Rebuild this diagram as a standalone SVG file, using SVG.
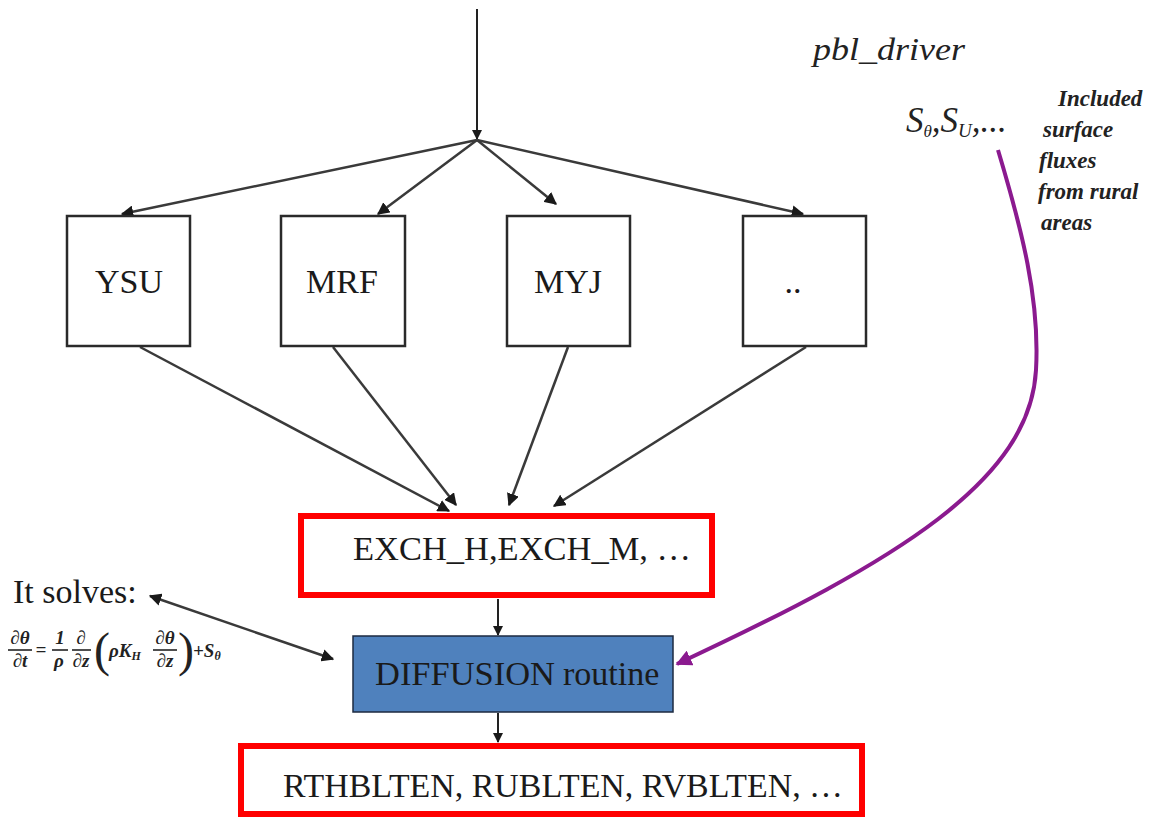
<svg xmlns="http://www.w3.org/2000/svg" width="1160" height="822" viewBox="0 0 1160 822">
  <style>
    .box { fill: #ffffff; stroke: #2a2a2a; stroke-width: 2.5; }
    .red { fill: #ffffff; stroke: #ff0000; stroke-width: 6; }
    .blue { fill: #4f81bd; stroke: #1c2a40; stroke-width: 1.5; }
    text { font-family: 'Liberation Serif', 'DejaVu Serif', serif; fill: #1a1a1a; }
    .big { font-size: 34px; }
    .note { font-style: italic; fill: #222; }
    .eq text { font-style: italic; font-weight: bold; fill: #222; font-size: 19px; }
    .eq text.paren { font-style: normal; font-weight: normal; font-size: 48px; }
    .conn { stroke: #3a3a3a; stroke-width: 2.5; fill: none; marker-end: url(#arr); }
    .conn2 { stroke: #222; stroke-width: 2; fill: none; marker-end: url(#arr); }
    .bar { stroke: #222; stroke-width: 1.6; }
  </style>
  <defs>
    <marker id="arr" viewBox="0 0 10 10" refX="9" refY="5" markerWidth="5" markerHeight="5" markerUnits="strokeWidth" orient="auto">
      <path d="M0,0 L10,5 L0,10 z" fill="#1a1a1a"/>
    </marker>
    <marker id="arrStart" viewBox="0 0 10 10" refX="1" refY="5" markerWidth="5" markerHeight="5" markerUnits="strokeWidth" orient="auto">
      <path d="M10,0 L0,5 L10,10 z" fill="#1a1a1a"/>
    </marker>
    <marker id="arrP" viewBox="0 0 10 10" refX="9" refY="5" markerWidth="4" markerHeight="4" markerUnits="strokeWidth" orient="auto">
      <path d="M0,0 L10,5 L0,10 z" fill="#8b1a8f"/>
    </marker>
  </defs>

  <!-- connectors -->
  <g id="connectors">
    <line class="conn2" x1="477" y1="9" x2="477" y2="139"/>
    <line class="conn" x1="477" y1="140" x2="122" y2="214"/>
    <line class="conn" x1="477" y1="140" x2="378" y2="214"/>
    <line class="conn" x1="477" y1="140" x2="556" y2="204"/>
    <line class="conn" x1="477" y1="140" x2="803" y2="214"/>
    <line class="conn" x1="140" y1="347" x2="449" y2="511"/>
    <line class="conn" x1="333" y1="347" x2="456" y2="505"/>
    <line class="conn" x1="568" y1="347" x2="509" y2="505"/>
    <line class="conn" x1="806" y1="347" x2="554" y2="506"/>
    <line class="conn2" x1="498" y1="599" x2="498" y2="635"/>
    <line class="conn2" x1="498" y1="713" x2="498" y2="742"/>
    <line class="conn" x1="150" y1="596" x2="333" y2="659" marker-start="url(#arrStart)"/>
    <path d="M998,150 C1022,230 1040,300 1036,370 C1030,480 900,560 677,664" stroke="#8b1a8f" stroke-width="4" fill="none" marker-end="url(#arrP)"/>
  </g>

  <!-- scheme boxes -->
  <g id="ysu">
    <rect class="box" x="67" y="216" width="123" height="130"/>
    <text class="big" x="129" y="293" text-anchor="middle">YSU</text>
  </g>
  <g id="mrf">
    <rect class="box" x="281" y="216" width="124" height="130"/>
    <text class="big" x="342" y="293" text-anchor="middle">MRF</text>
  </g>
  <g id="myj">
    <rect class="box" x="507" y="216" width="123" height="130"/>
    <text class="big" x="568" y="293" text-anchor="middle">MYJ</text>
  </g>
  <g id="other">
    <rect class="box" x="743" y="216" width="123" height="130"/>
    <text class="big" x="793" y="293" text-anchor="middle">..</text>
  </g>

  <!-- exchange coefficients -->
  <g id="exch">
    <rect class="red" x="301" y="516" width="411" height="79"/>
    <text class="big" x="353" y="560" textLength="338" lengthAdjust="spacingAndGlyphs">EXCH_H,EXCH_M, …</text>
  </g>

  <!-- diffusion solver -->
  <g id="diffusion">
    <rect class="blue" x="353" y="636" width="320" height="76"/>
    <text class="big" x="375" y="685"><tspan textLength="180" lengthAdjust="spacingAndGlyphs">DIFFUSION</tspan><tspan x="563">routine</tspan></text>
  </g>

  <!-- tendencies -->
  <g id="tendencies">
    <rect class="red" x="241" y="746" width="621" height="68"/>
    <text class="big" x="283" y="797" textLength="560" lengthAdjust="spacingAndGlyphs">RTHBLTEN, RUBLTEN, RVBLTEN, …</text>
  </g>

  <!-- driver annotations -->
  <g id="driver">
    <text class="note" x="813" y="60" font-size="32" textLength="152" lengthAdjust="spacingAndGlyphs">pbl_driver</text>
    <text class="note" x="906" y="132" font-size="35">S<tspan font-size="17" dy="5">θ</tspan><tspan dy="-5">,S</tspan><tspan font-size="19" dy="5">U</tspan><tspan dy="-5">,...</tspan></text>
    <text class="note" x="1058" y="106" font-size="23" font-weight="bold">Included</text>
    <text class="note" x="1043" y="137" font-size="23" font-weight="bold">surface</text>
    <text class="note" x="1039" y="168" font-size="23" font-weight="bold">fluxes</text>
    <text class="note" x="1038" y="199" font-size="23" font-weight="bold">from rural</text>
    <text class="note" x="1041" y="230" font-size="23" font-weight="bold">areas</text>
  </g>

  <!-- solved equation -->
  <g id="solves">
    <text class="big" x="13" y="603">It solves:</text>
    <g class="eq">
      <text x="20" y="644" text-anchor="middle">∂θ</text>
      <line class="bar" x1="8" y1="650" x2="32" y2="650"/>
      <text x="20" y="667" text-anchor="middle">∂t</text>
      <text x="41" y="656" text-anchor="middle">=</text>
      <text x="60" y="644" text-anchor="middle">1</text>
      <line class="bar" x1="52" y1="650" x2="68" y2="650"/>
      <text x="59" y="667" text-anchor="middle">ρ</text>
      <text x="81" y="644" text-anchor="middle">∂</text>
      <line class="bar" x1="72" y1="650" x2="91" y2="650"/>
      <text x="81" y="667" text-anchor="middle">∂z</text>
      <text class="paren" x="94" y="666">(</text>
      <text x="109" y="657">ρK<tspan font-size="12" dy="3">H</tspan></text>
      <text x="165" y="644" text-anchor="middle">∂θ</text>
      <line class="bar" x1="153" y1="650" x2="177" y2="650"/>
      <text x="165" y="667" text-anchor="middle">∂z</text>
      <text class="paren" x="178" y="666">)</text>
      <text x="193" y="657">+S<tspan font-size="12" dy="3">θ</tspan></text>
    </g>
  </g>
</svg>
